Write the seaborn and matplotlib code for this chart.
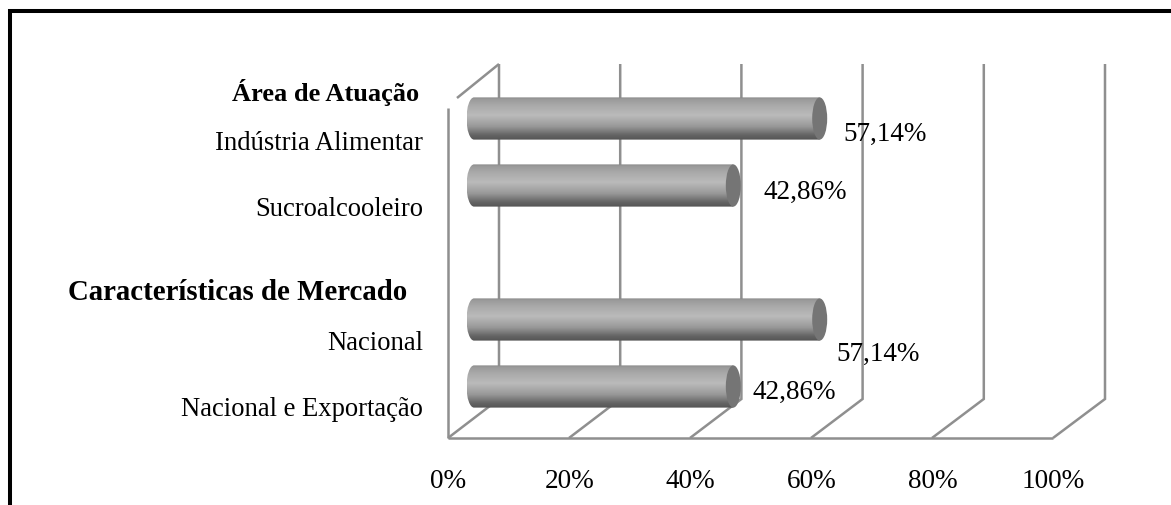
import numpy as np
import pandas as pd
import seaborn as sns
import matplotlib
matplotlib.use("Agg")
import matplotlib.pyplot as plt
from matplotlib.patches import Ellipse, PathPatch
from matplotlib.path import Path
from matplotlib.transforms import Affine2D

# ---- data ----
categories = ["Indústria Alimentar", "Sucroalcooleiro", " ", "Nacional", "Nacional e Exportação"]
values = [57.14, 42.86, np.nan, 57.14, 42.86]
value_labels = ["57,14%", "42,86%", None, "57,14%", "42,86%"]
headers = ["Área de Atuação", "Características de Mercado"]
tick_values = [0, 20, 40, 60, 80, 100]
tick_labels = ["0%", "20%", "40%", "60%", "80%", "100%"]

# ---- layout (pixels of the 1171x506 picture) ----
W, H = 1171, 506
X0, PX_PER_PCT = 474.0, 6.05
Y0, PX_PER_ROW = 119.5, 67.0
BAR_W = 0.63
FRONT_X0, BACK_X0 = 448, 499
FRONT_Y, BACK_Y, TOP_Y = 439, 400, 65
GRID = "#8f8f8f"
FONT = "Liberation Serif"
FS = 19

sns.set_theme(style="white", rc={"font.family": FONT})
plt.rcParams["font.family"] = [FONT, "DejaVu Serif"]

fig = plt.figure(figsize=(W / 100, H / 100), dpi=100, facecolor="white")
ax = fig.add_axes([0, 0, 1, 1])

df = pd.DataFrame({"cat": categories, "val": values})
sns.barplot(data=df, y="cat", x="val", order=categories, orient="h", width=BAR_W,
            color="#aaaaaa", ax=ax, zorder=3)

ax.set_xlim(-X0 / PX_PER_PCT, (W - X0) / PX_PER_PCT)
ax.set_ylim((H - Y0) / PX_PER_ROW, -Y0 / PX_PER_ROW)
ax.set_xlabel("")
ax.set_ylabel("")
ax.set_xticks([])
ax.set_yticks([])
for s in ax.spines.values():
    s.set_visible(False)

# transform in picture pixels, origin top-left
px = Affine2D().scale(fig.dpi / 100).scale(1, -1).translate(0, fig.bbox.height)


def line(xs, ys, color=GRID, lw=1.8, z=1):
    ax.plot(xs, ys, color=color, lw=lw, transform=px, zorder=z, clip_on=False,
            solid_capstyle="butt", solid_joinstyle="miter")


# chart frame: left and top edges only
line([10, 10, W], [H, 12, 12], color="black", lw=2.9, z=6)

# walls and grid
line([448, 448], [109, FRONT_Y])
line([457, BACK_X0], [99, TOP_Y])
line([FRONT_X0, 1053], [FRONT_Y, FRONT_Y])
for v in tick_values:
    bx = BACK_X0 + v * 6.06
    fx = FRONT_X0 + v * 6.05
    line([bx, bx, fx], [TOP_Y, BACK_Y, FRONT_Y])

# cylinders
stops = np.array([0.0, 0.04, 0.18, 0.42, 0.68, 0.88, 1.0])
greys = np.array([0.53, 0.60, 0.66, 0.73, 0.60, 0.40, 0.33])
grad = np.interp(np.linspace(0, 1, 128), stops, greys)[:, None]
rx = 7.5 / PX_PER_PCT
bars = [p for p in ax.patches if np.isfinite(p.get_width()) and p.get_width() > 0]
for p in bars:
    x0, y0, w, h = p.get_x(), p.get_y(), p.get_width(), p.get_height()
    p.set_visible(False)
    y1 = y0 + h
    k = 0.5523 * rx
    ym = (y0 + y1) / 2
    kv = 0.5523 * h / 2
    verts = [(x0, y0), (x0 - k, y0), (x0 - rx, ym - kv), (x0 - rx, ym),
             (x0 - rx, ym + kv), (x0 - k, y1), (x0, y1), (x0 + w, y1), (x0 + w, y0), (x0, y0)]
    codes = [Path.MOVETO, Path.CURVE4, Path.CURVE4, Path.CURVE4,
             Path.CURVE4, Path.CURVE4, Path.CURVE4, Path.LINETO, Path.LINETO, Path.CLOSEPOLY]
    clip = PathPatch(Path(verts, codes), transform=ax.transData, fc="none", ec="none")
    ax.add_patch(clip)
    im = ax.imshow(grad, cmap="gray", vmin=0, vmax=1, aspect="auto", zorder=3,
                   extent=(x0 - rx, x0 + w, y1, y0), interpolation="bilinear")
    im.set_clip_path(clip)
    ax.add_patch(Ellipse((x0 + w, ym), 2 * rx, h, fc="#757575", ec="none", zorder=4))
ax.set_xlim(-X0 / PX_PER_PCT, (W - X0) / PX_PER_PCT)
ax.set_ylim((H - Y0) / PX_PER_ROW, -Y0 / PX_PER_ROW)

# text
cat_px = {0: 144, 1: 210, 3: 344, 4: 410}
for i, y in cat_px.items():
    ax.text(423, y, categories[i], transform=px, ha="right", va="center", fontsize=FS + 0.2, color="black")
for t, (x, y, fs) in zip(headers, [(419, 93, 19), (407, 293, 20.8)]):
    ax.text(x, y, t, transform=px, ha="right", va="center", fontsize=fs, fontweight="bold", color="black")
val_px = [(885, 134), (805, 192), None, (878, 354), (794, 392)]
for t, pos in zip(value_labels, val_px):
    if t:
        ax.text(pos[0], pos[1], t, transform=px, ha="center", va="center", fontsize=FS + 0.5, color="black")
for v, t in zip(tick_values, tick_labels):
    ax.text(FRONT_X0 + v * 6.05 + 0.5, 482, t, transform=px, ha="center", va="center", fontsize=FS + 0.6, color="black")

fig.savefig("out.png", dpi=100, facecolor="white")
